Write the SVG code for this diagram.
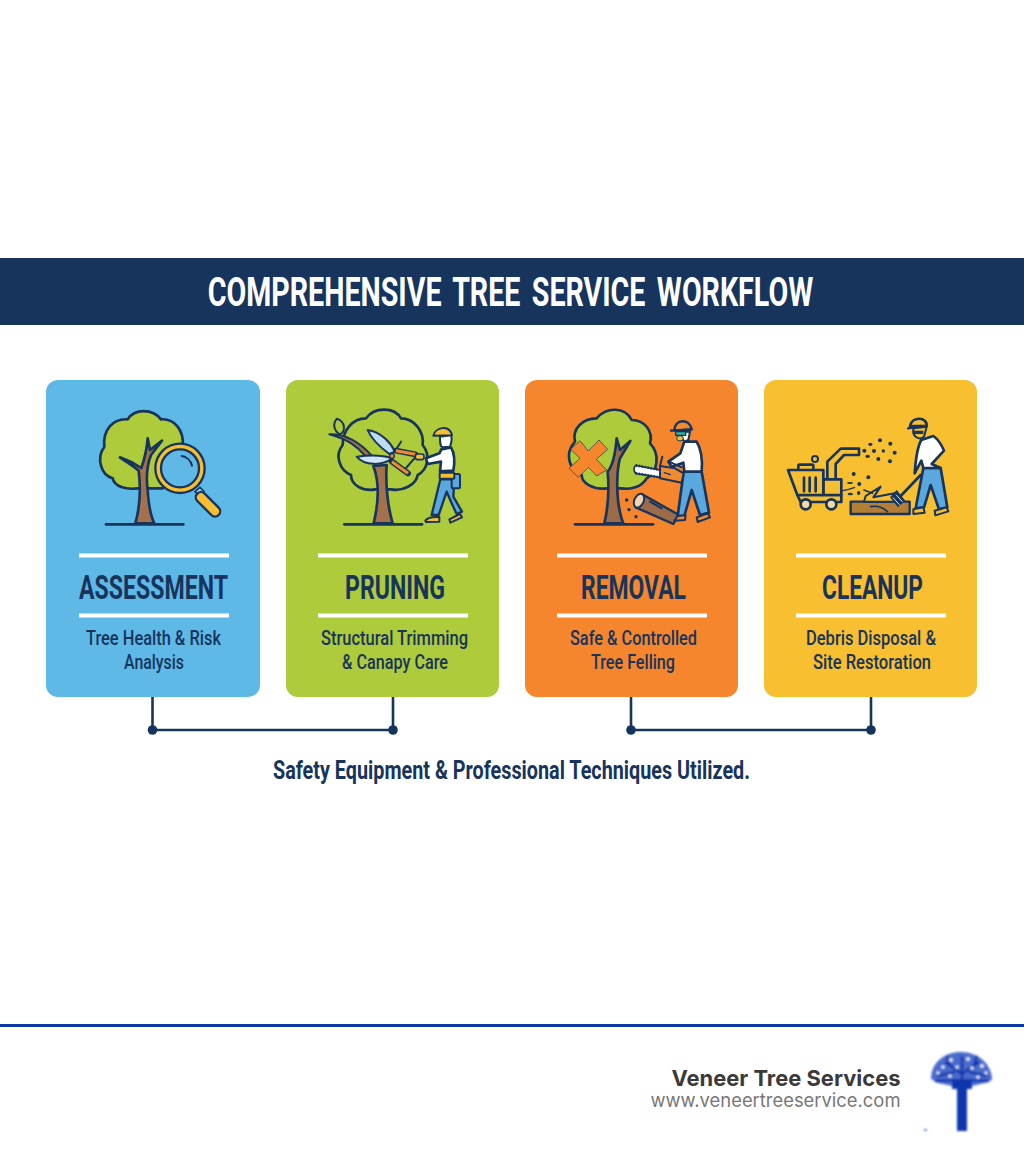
<svg xmlns="http://www.w3.org/2000/svg" width="1024" height="1154" viewBox="0 0 1024 1154">
<defs>
<style>
.card{stroke:none}
.rule{fill:#fff}
.h{font-family:"Roboto","Liberation Sans",sans-serif;font-weight:700;font-size:34px;fill:#17345c;text-anchor:middle}
.s{font-family:"Roboto","Liberation Sans",sans-serif;font-weight:500;font-size:21px;fill:#17345c;text-anchor:middle}
.o{stroke:#17345c;stroke-width:8;stroke-linejoin:round;stroke-linecap:round}
.n{fill:none}
.g{fill:#aecb3b}
.b{fill:#a5714c}
.w{fill:#fff}
.j{fill:#5aa8de}
.y{fill:#f6be31}
.r{fill:#f28a2e}
.d{fill:#17345c;stroke:none}
.c{stroke:#17345c;stroke-width:2.6;fill:none}
</style>
<filter id="soft" x="-10%" y="-10%" width="120%" height="120%"><feGaussianBlur stdDeviation="0.9"/></filter>
</defs>
<rect width="1024" height="1154" fill="#fff"/>

<g id="title">
<rect x="0" y="258" width="1024" height="67" fill="#17345c"/>
<text transform="translate(510.500,306) scale(.74,1)" x="0" y="0" font-family="Roboto,'Liberation Sans',sans-serif" font-weight="700" font-size="40" word-spacing="6" fill="#fff" text-anchor="middle" textLength="818" lengthAdjust="spacingAndGlyphs">COMPREHENSIVE TREE SERVICE WORKFLOW</text>
</g>

<g id="assessment">
<rect class="card" x="46" y="380" width="214" height="317" rx="12" fill="#5eb9e6"/>
<g transform="translate(46,380) scale(.33333)">
<path class="o g" d="M275 325C240 330 205 320 200 295C165 285 150 235 175 200C170 150 200 115 245 118C265 85 320 85 345 118C385 115 415 150 410 200L350 325Z"/>
<path class="o b" d="M268 430C282 380 284 320 278 272C262 258 240 245 222 232C245 240 268 252 286 264C296 235 303 205 305 175L312 210L348 182L315 225C305 250 300 290 305 330C308 380 315 410 325 430Z"/>
<path class="o n" d="M180 433H412"/>
<circle cx="402" cy="265" r="74" fill="#f6be31" stroke="#17345c" stroke-width="7"/>
<circle cx="402" cy="265" r="57" fill="#5fb8e6" stroke="#17345c" stroke-width="7"/>
<path class="o n" style="stroke-width:6" d="M407 228C420 230 434 240 438 257"/>
<path d="M447 335L462 322L474 335L460 348Z" fill="#9fd0ec" stroke="#17345c" stroke-width="5"/>
<path d="M465 352L507 394" stroke="#17345c" stroke-width="38" stroke-linecap="round"/>
<path d="M465 352L507 394" stroke="#f6be31" stroke-width="24" stroke-linecap="round"/>
</g>
<rect class="rule" x="79" y="553.500" width="150" height="4"/>
<text class="h" x="153.500" y="598.500" textLength="149" lengthAdjust="spacingAndGlyphs">ASSESSMENT</text>
<rect class="rule" x="79" y="613.500" width="150" height="4"/>
<text class="s" x="153.500" y="644.500" textLength="135" lengthAdjust="spacingAndGlyphs">Tree Health &amp; Risk</text>
<text class="s" x="154" y="668.500" textLength="60" lengthAdjust="spacingAndGlyphs">Analysis</text>
</g>

<g id="pruning">
<rect class="card" x="286" y="380" width="213" height="317" rx="12" fill="#aecb3b"/>
<g transform="translate(286,390) scale(.33333)">
<path class="o n" d="M270 298C230 305 195 285 195 255C160 240 145 195 170 165C170 120 200 85 240 85C265 50 325 50 345 85C385 85 415 125 410 165C435 195 425 240 395 255C390 285 350 305 315 298Z"/>
<path class="o b" d="M263 400C275 350 282 280 262 228L302 225C298 280 305 350 320 400Z"/>
<path class="o n" d="M175 403H408"/>
<path class="o b" style="stroke-width:6" d="M130 133C170 132 215 150 258 198L238 198C215 170 190 150 130 133Z"/>
<path class="o g" style="stroke-width:6" d="M153 86C178 95 180 125 162 133C142 122 140 100 153 86Z"/>
<path class="o" style="fill:#cfe4f4;stroke-width:6" d="M212 200C250 195 290 195 318 205C290 228 235 228 212 200Z"/>
<path class="o" style="fill:#bcdcf2;stroke-width:6" d="M245 120C285 125 315 160 327 185L310 192C280 170 255 145 245 120Z"/>
<path class="o n" style="stroke-width:6" d="M345 155L325 187M385 205L355 240"/>
<path d="M330 182L388 193" stroke="#17345c" stroke-width="18" stroke-linecap="round"/>
<path d="M330 182L388 193" stroke="#f28a2e" stroke-width="9"/>
<path d="M318 215L366 250" stroke="#17345c" stroke-width="18" stroke-linecap="round"/>
<path d="M318 215L366 250" stroke="#f28a2e" stroke-width="9"/>
<circle cx="318" cy="198" r="7" fill="#f28a2e" stroke="#17345c" stroke-width="4"/>
<rect class="o y" style="stroke-width:5" x="388" y="192" width="26" height="17" rx="7"/>
<path class="o w" style="stroke-width:6" d="M462 140C462 160 462 170 470 172L492 170C498 155 498 145 495 135Z"/>
<path class="o y" style="stroke-width:6" d="M442 137C448 112 490 102 498 136Z"/>
<path class="o w" d="M466 178L495 172C506 190 506 220 502 242L462 244L465 215L425 222L420 205L460 190Z"/>
<path class="o j" style="stroke-width:7" d="M463 268L437 375L458 375L482 305L497 340L512 372L528 365L502 320L505 268Z"/>
<rect class="o j" style="stroke-width:6" x="497" y="252" width="25" height="43" rx="5"/>
<rect class="o y" style="stroke-width:6" x="461" y="248" width="44" height="18" rx="2"/>
<path class="o y" style="stroke-width:6" d="M418 392C425 382 445 380 460 381L460 395L420 396Z"/>
<path class="o y" style="stroke-width:6" d="M490 388L522 372L528 382L493 398Z"/>
</g>
<rect class="rule" x="318" y="553.500" width="150" height="4"/>
<text class="h" x="395" y="598.500" textLength="100" lengthAdjust="spacingAndGlyphs">PRUNING</text>
<rect class="rule" x="318" y="613.500" width="150" height="4"/>
<text class="s" x="394.500" y="644.500" textLength="147" lengthAdjust="spacingAndGlyphs">Structural Trimming</text>
<text class="s" x="395" y="668.500" textLength="106" lengthAdjust="spacingAndGlyphs">&amp; Canapy Care</text>
</g>

<g id="removal">
<rect class="card" x="525" y="380" width="213" height="317" rx="12" fill="#f5862e"/>
<g transform="translate(525,390) scale(.33333)">
<path class="o g" d="M245 295C205 300 170 280 170 255C135 240 115 195 150 155C140 115 175 85 215 85C245 50 300 50 320 90C360 90 385 125 375 160C405 190 400 245 365 265C350 290 320 300 290 295Z"/>
<path d="M165 152L190 183L222 150L248 178L214 208L245 240L215 258L190 232L160 262L132 235L165 205L137 178Z" fill="#f5862e" stroke="#17345c" stroke-width="2" stroke-linejoin="round"/>
<path class="o b" style="fill:#9b6b4a" d="M238 400C250 350 252 290 248 245C265 225 272 180 275 145L285 180L316 153L285 205C275 240 275 300 280 340C285 370 290 390 295 400Z"/>
<path class="o n" d="M150 403H384"/>
<path class="o" style="fill:#9b6b4a;stroke-width:7" d="M350 312L462 375L445 402L332 352Z"/>
<ellipse cx="342" cy="332" rx="14" ry="22" transform="rotate(25 342 332)" fill="#f3d3b0" stroke="#17345c" stroke-width="6"/>
<path class="o n" style="stroke-width:6" d="M375 335L410 355"/>
<circle class="d" cx="305" cy="330" r="5"/><circle class="d" cx="312" cy="359" r="5"/><circle class="d" cx="333" cy="380" r="5"/>
<path class="o j" style="stroke-width:8" d="M476 245L530 245L552 368L525 375L500 300L478 378L458 378Z"/>
<path class="o r" style="stroke-width:6" d="M458 378L482 376L480 390L448 392Z"/>
<path class="o r" style="stroke-width:6" d="M515 382L548 370L555 382L518 396Z"/>
<path class="o w" d="M478 155L515 155C530 180 532 220 530 245L478 245L475 218L440 230L430 215L466 190Z"/>
<path class="o w" style="stroke-width:6" d="M460 125L495 125L490 150L478 155Z"/>
<path d="M452 125H482V136H452Z" fill="#2fb39b" stroke="#17345c" stroke-width="4"/>
<ellipse cx="465" cy="145" rx="10" ry="8" fill="#e3c33a" stroke="#17345c" stroke-width="3"/>
<path class="o r" style="stroke-width:7" d="M448 122C448 85 495 85 500 118Z"/>
<path class="o n" style="stroke-width:7" d="M438 122L500 118"/>
<path d="M332 226L405 240V262L332 250Q322 238 332 226Z" fill="#fff" stroke="#17345c" stroke-width="5" stroke-linejoin="round"/>
<path d="M332 226L405 240M332 250L405 262" fill="none" stroke="#17345c" stroke-width="8" stroke-dasharray="4 5"/>
<path class="o r" style="stroke-width:6" d="M405 228L450 235L476 250L470 278L405 265Z"/>
<path class="o n" style="stroke-width:6" d="M412 200L405 228M432 215L470 232"/>
<path class="o n" style="stroke-width:4" d="M418 248L436 254"/>
</g>
<rect class="rule" x="557" y="553.500" width="150" height="4"/>
<text class="h" x="633.500" y="598.500" textLength="105" lengthAdjust="spacingAndGlyphs">REMOVAL</text>
<rect class="rule" x="557" y="613.500" width="150" height="4"/>
<text class="s" x="633.500" y="644.500" textLength="127" lengthAdjust="spacingAndGlyphs">Safe &amp; Controlled</text>
<text class="s" x="633" y="668.500" textLength="84" lengthAdjust="spacingAndGlyphs">Tree Felling</text>
</g>

<g id="cleanup">
<rect class="card" x="764" y="380" width="213" height="317" rx="12" fill="#f8bf30"/>
<g transform="translate(764,390) scale(.33333)">
<rect class="o y" style="stroke-width:8" x="103" y="224" width="45" height="18" rx="4"/>
<circle cx="153" cy="207" r="9" fill="#f8bf30" stroke="#17345c" stroke-width="6"/>
<path class="o y" d="M190 268V215L230 176H285V195H240L215 222V268Z"/>
<path class="o y" d="M100 315H232V336H110Z"/>
<path class="o y" d="M178 268H232V315H178Z"/>
<path class="o y" d="M72 240H178V315H100Z"/>
<path class="o n" d="M120 263V304M137 263V304M155 263V304"/>
<circle cx="125" cy="343" r="15" fill="#f1dba0" stroke="#17345c" stroke-width="8"/>
<circle cx="202" cy="343" r="15" fill="#f1dba0" stroke="#17345c" stroke-width="8"/>
<g class="d">
<ellipse cx="319" cy="163" rx="6" ry="5"/><circle cx="348" cy="151" r="6"/><circle cx="379" cy="161" r="6"/><circle cx="301" cy="182" r="6"/><circle cx="330" cy="183" r="6"/><circle cx="358" cy="183" r="5"/><circle cx="392" cy="188" r="6"/><ellipse cx="311" cy="199" rx="7" ry="5"/><circle cx="343" cy="207" r="6"/><circle cx="378" cy="214" r="6"/><circle cx="269" cy="252" r="6"/><circle cx="313" cy="262" r="6"/><ellipse cx="258" cy="279" rx="9" ry="3"/><circle cx="286" cy="282" r="6"/><ellipse cx="259" cy="312" rx="8" ry="4"/><ellipse cx="284" cy="309" rx="5" ry="6"/>
</g>
<path class="o n" style="stroke-width:4" d="M236 302C248 300 262 296 272 292"/>
<path class="o" style="fill:#b57e35;stroke-width:7" d="M260 335H437V372H260Z"/>
<path class="o y" style="stroke-width:6" d="M305 318L350 290L328 322L400 308L410 335H300Z"/>
<path class="o n" style="stroke-width:5" d="M300 300L325 310M320 350C345 345 360 355 370 365"/>
<path class="o j" style="stroke-width:8" d="M478 234H530L550 352L525 358L500 285L480 352L455 355Z"/>
<path class="o y" style="stroke-width:6" d="M448 358L478 352L482 368L448 372Z"/>
<path class="o y" style="stroke-width:6" d="M512 362L548 352L553 364L514 376Z"/>
<path class="o w" d="M472 150L508 138C525 150 535 170 540 182L503 222L530 234H478L472 212L452 250C455 210 460 170 472 150Z"/>
<path class="o n" d="M470 255L410 318"/>
<path d="M378 322L398 300L424 332L402 352Z" fill="#17345c"/>
<path d="M386 322L408 346M396 314L416 336" stroke="#e8e3c8" stroke-width="3" fill="none"/>
<path class="o y" style="stroke-width:6" d="M448 115L488 110L480 140C470 150 455 145 448 130Z"/>
<path class="d" d="M445 122H478V132H450Z"/>
<path class="o" style="fill:#f8bf30;stroke-width:8" d="M438 108C445 78 490 80 488 108Z"/>
<path class="o n" style="stroke-width:7" d="M432 115L470 108"/>
</g>
<rect class="rule" x="796" y="553.500" width="150" height="4"/>
<text class="h" x="872.500" y="598.500" textLength="101" lengthAdjust="spacingAndGlyphs">CLEANUP</text>
<rect class="rule" x="796" y="613.500" width="150" height="4"/>
<text class="s" x="871" y="644.500" textLength="130" lengthAdjust="spacingAndGlyphs">Debris Disposal &amp;</text>
<text class="s" x="872" y="668.500" textLength="118" lengthAdjust="spacingAndGlyphs">Site Restoration</text>
</g>

<g id="connectors">
<path class="c" d="M152.500 697V730H393V697"/>
<circle class="d" cx="152.500" cy="730" r="4.800"/><circle class="d" cx="393" cy="730" r="4.800"/>
<path class="c" d="M631 697V730H871V697"/>
<circle class="d" cx="631" cy="730" r="4.800"/><circle class="d" cx="871" cy="730" r="4.800"/>
</g>

<g id="note">
<text x="511.500" y="779" font-family="Roboto,'Liberation Sans',sans-serif" font-weight="700" font-size="25" fill="#17345c" text-anchor="middle" textLength="477" lengthAdjust="spacingAndGlyphs">Safety Equipment &amp; Professional Techniques Utilized.</text>
</g>

<g id="footer">
<rect x="0" y="1024" width="1024" height="3" fill="#0a36ad"/>
<text x="900.500" y="1086" font-family="Inter,'Liberation Sans',sans-serif" font-weight="700" font-size="22" fill="#3a3a3a" text-anchor="end" textLength="229" lengthAdjust="spacingAndGlyphs">Veneer Tree Services</text>
<text x="900.500" y="1107" font-family="Inter,'Liberation Sans',sans-serif" font-weight="400" font-size="18.500" fill="#777" text-anchor="end" textLength="250" lengthAdjust="spacingAndGlyphs">www.veneertreeservice.com</text>
<g id="logo" filter="url(#soft)">
<path d="M931 1079C931 1062 945 1052 961 1052C978 1052 992 1064 992 1080L985 1083L972 1086H952L938 1083Z" fill="#4a6ccc"/>
<path d="M962 1082V1056M962 1074L945 1062M962 1074L979 1062M955 1072L937 1076M969 1072L987 1076M950 1066L947 1056M974 1066L977 1056M957 1080L935 1081M967 1080L989 1081" stroke="#0a36ad" stroke-width="2.400" fill="none"/>
<g fill="#fff">
<circle cx="943" cy="1067" r="1.600"/><circle cx="951" cy="1060" r="1.800"/><circle cx="957" cy="1067" r="1.600"/><circle cx="968" cy="1059" r="1.800"/><circle cx="972" cy="1068" r="1.600"/><circle cx="982" cy="1066" r="1.800"/><circle cx="938" cy="1073" r="1.400"/><circle cx="950" cy="1076" r="1.600"/><circle cx="978" cy="1077" r="1.600"/><circle cx="986" cy="1073" r="1.400"/>
</g>
<rect x="952" y="1079" width="20" height="10" fill="#0a36ad"/>
<rect x="957" y="1088" width="10" height="43" fill="#0a36ad"/>
<rect x="924" y="1129" width="3" height="2" fill="#6d88d6"/>
</g>
</g>
</svg>
